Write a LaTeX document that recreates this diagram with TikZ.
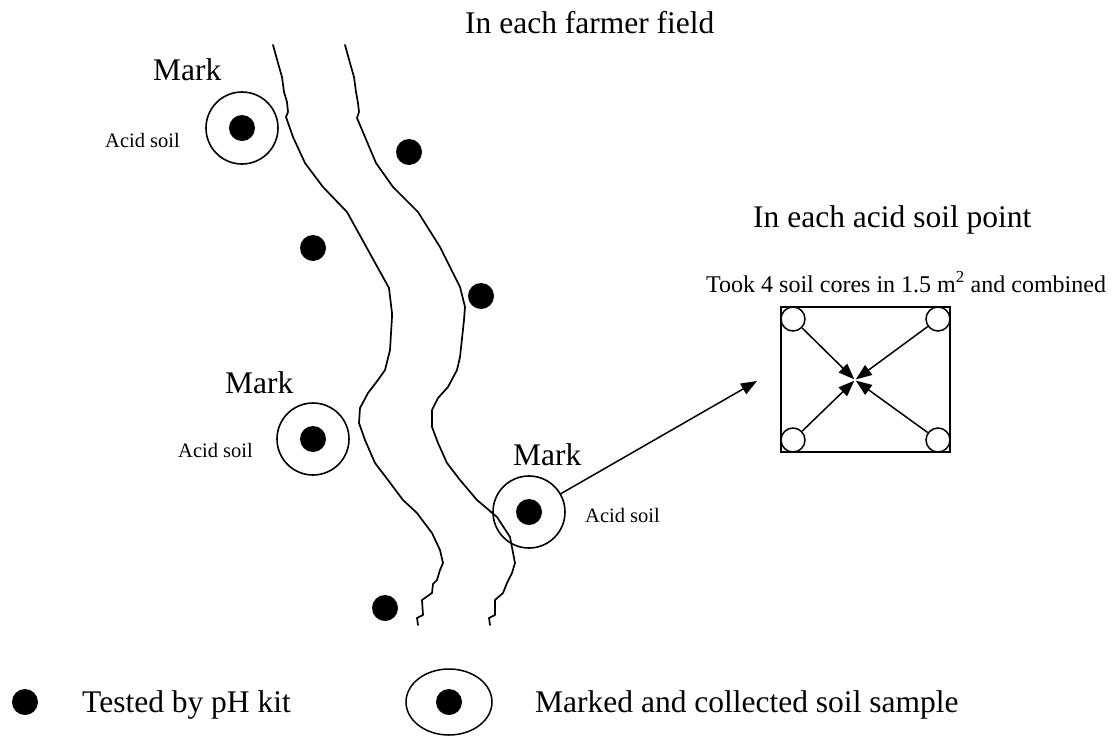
\documentclass[tikz,border=0pt]{standalone}
\usepackage{fontspec}
\setmainfont{Liberation Serif}
\usetikzlibrary{arrows.meta,shapes.geometric}
\begin{document}
\begin{tikzpicture}[x=1pt,y=-1pt,
  river/.style={line width=1.7pt, line join=round, line cap=round},
  dotn/.style={circle, fill=black, minimum size=26pt, inner sep=0pt},
  ringn/.style={circle, draw, line width=1.6pt, minimum size=72pt, inner sep=0pt},
  coren/.style={circle, draw, line width=1.5pt, minimum size=24pt, inner sep=0pt},
  bigt/.style={font=\fontsize{31.5}{36}\selectfont, inner sep=0pt, anchor=base west},
  smallt/.style={font=\fontsize{20.5}{24}\selectfont, inner sep=0pt, anchor=base west},
  midt/.style={font=\fontsize{24}{28}\selectfont, inner sep=0pt, anchor=base west},
  arr/.style={line width=1.5pt, -{Triangle[length=16pt,width=12pt]}}]
\useasboundingbox (0,0) rectangle (1117,737);

% titles
\node[bigt] (t1) at (465,33) {In each farmer field};
\node[bigt] (t2) at (753,227) {In each acid soil point};
\node[midt] (t3) at (706,292) {Took 4 soil cores in 1.5 m\textsuperscript{2} and combined};

% river banks
\draw[river] (273,45) -- (278,63) -- (282,77) -- (284,92) -- (287,102) -- (288,112) -- (286,117) -- (293,137) -- (305,163) -- (323,187) -- (347,212) -- (368,250) -- (389,288) -- (392,313) -- (392,317) -- (390,350) -- (387,362) -- (385,370) -- (378,380) -- (368,393) -- (360,408) -- (359,423) -- (365,440) -- (375,463) -- (388,480) -- (403,500) -- (417,513) -- (432,533) -- (440,550) -- (443,563) -- (440,570) -- (437,580) -- (433,584) -- (432,593) -- (422,600) -- (423,615) -- (417,618) -- (418,625);
\draw[river] (345,45) -- (350,63) -- (354,77) -- (356,92) -- (358,103) -- (359,112) -- (357,118) -- (365,137) -- (376,163) -- (393,187) -- (418,212) -- (440,247) -- (460,287) -- (465,307) -- (464,320) -- (460,357) -- (457,370) -- (448,387) -- (438,398) -- (432,410) -- (432,427) -- (438,443) -- (447,463) -- (460,480) -- (477,500) -- (497,517) -- (510,537) -- (515,563) -- (512,573) -- (507,583) -- (503,593) -- (495,600) -- (495,615) -- (489,618) -- (490,625);

% marked points
\node[ringn] (c1) at (242,128) {};
\node[dotn] (c1d) at (242,128) {};
\node[bigt] (m1) at (153,80) {Mark};
\node[smallt] (a1) at (105,147) {Acid soil};

\node[ringn] (c2) at (313,439) {};
\node[dotn] (c2d) at (313,439) {};
\node[bigt] (m2) at (225,393) {Mark};
\node[smallt] (a2) at (178,457) {Acid soil};

\node[ringn] (c3) at (529,512) {};
\node[dotn] (c3d) at (529,512) {};
\node[bigt] (m3) at (513,465) {Mark};
\node[smallt] (a3) at (585,522) {Acid soil};

% tested points
\node[dotn] (d1) at (409,152) {};
\node[dotn] (d2) at (313,248) {};
\node[dotn] (d3) at (481,296) {};
\node[dotn] (d4) at (385,608) {};

% sampling square
\node[draw, line width=1.5pt, minimum width=169pt, minimum height=145pt, inner sep=0pt] (sq) at (865.5,379.5) {};
\node[coren] (k1) at (793,319) {};
\node[coren] (k2) at (938,319) {};
\node[coren] (k3) at (793,440) {};
\node[coren] (k4) at (938,440) {};
\coordinate (cc) at (855,380);
\draw[arr, shorten >=1pt] (k1) -- (cc);
\draw[arr, shorten >=1pt] (k2) -- (cc);
\draw[arr, shorten >=1pt] (k3) -- (cc);
\draw[arr, shorten >=1pt] (k4) -- (cc);

% link arrow
\coordinate (tipA) at (757,381);
\draw[arr] (c3) -- (tipA);

% legend
\node[dotn] (ld) at (25,702) {};
\node[bigt] (lt1) at (82,712) {Tested by pH kit};
\node[ellipse, draw, line width=1.5pt, minimum width=86pt, minimum height=66pt, inner sep=0pt] (lr) at (449,702) {};
\node[dotn] (lrd) at (449,702) {};
\node[bigt] (lt2) at (535,712) {Marked and collected soil sample};
\end{tikzpicture}
\end{document}
